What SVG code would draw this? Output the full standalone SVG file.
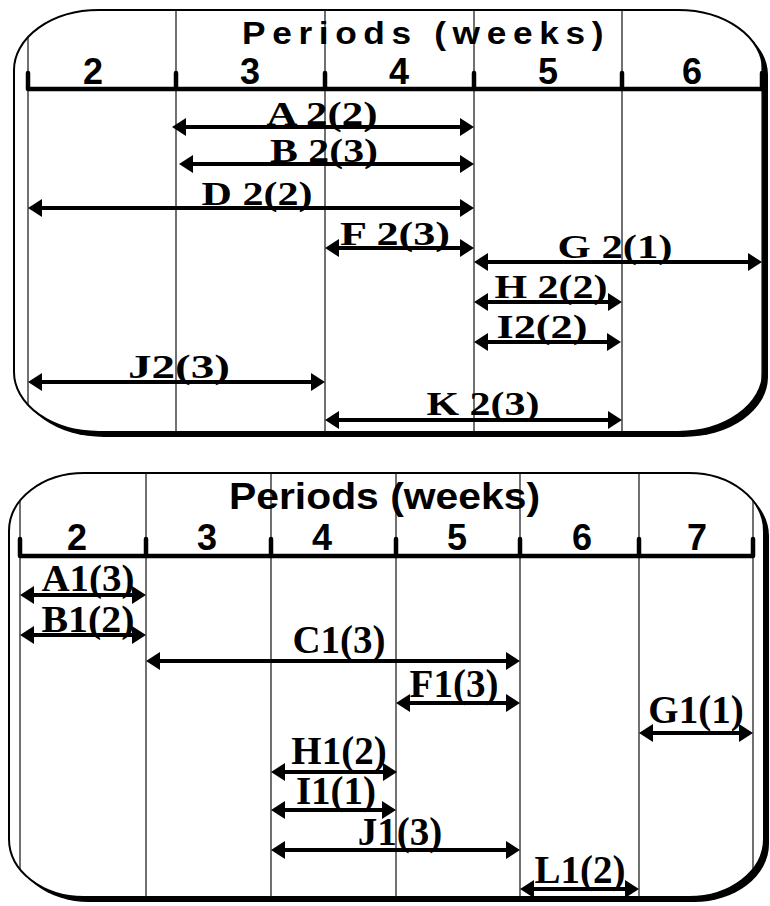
<svg xmlns="http://www.w3.org/2000/svg" width="770" height="906" viewBox="0 0 770 906">
  <style>
    .frame { fill: #fff; stroke: #000; stroke-width: 2; }
    .shadow { fill: #000; }
    .grid line { stroke: #111; stroke-width: 1.2; }
    .axis { stroke: #000; stroke-width: 4.5; fill: none; }
    .tick { stroke: #000; stroke-width: 4.5; stroke-linecap: round; }
    .title { font-family: "Liberation Sans", Arial, sans-serif; font-weight: bold; font-size: 32px; fill: #000; }
    .num { font-family: "Liberation Sans", Arial, sans-serif; font-weight: bold; font-size: 36px; fill: #000; text-anchor: middle; }
    .lbl2 { font-family: "Liberation Serif", "Times New Roman", serif; font-weight: bold; font-size: 34px; fill: #000; text-anchor: middle; }
    .lbl1 { font-family: "Liberation Serif", "Times New Roman", serif; font-weight: bold; font-size: 39px; fill: #000; text-anchor: middle; }
    .bar { stroke: #000; stroke-width: 4; fill: none; marker-start: url(#head); marker-end: url(#head); }
  </style>
  <defs>
    <marker id="head" viewBox="0 -9 14 18" markerWidth="14" markerHeight="18" refX="0" refY="0" markerUnits="userSpaceOnUse" orient="auto-start-reverse">
      <path d="M0,-9 L14,0 L0,9 Z" fill="#000"/>
    </marker>
    <clipPath id="clipTop"><rect x="14" y="10" width="749" height="422" rx="85" ry="60"/></clipPath>
    <clipPath id="clipBot"><rect x="9" y="473" width="755" height="424" rx="75" ry="58"/></clipPath>
  </defs>

  <!-- ===== Upper schedule (periods 2-6) ===== -->
  <g id="panel-upper">
    <rect class="shadow" x="19" y="15" width="749" height="422" rx="85" ry="60"/>
    <rect class="frame" x="14" y="10" width="749" height="422" rx="85" ry="60"/>
    <g class="grid" clip-path="url(#clipTop)">
      <line x1="28" y1="10" x2="28" y2="432"/>
      <line x1="176" y1="10" x2="176" y2="432"/>
      <line x1="325" y1="10" x2="325" y2="432"/>
      <line x1="474" y1="10" x2="474" y2="432"/>
      <line x1="622" y1="10" x2="622" y2="432"/>
      <line x1="762" y1="10" x2="762" y2="432"/>
    </g>
    <line class="axis" x1="28" y1="89" x2="764" y2="89"/>
    <g>
      <line class="tick" x1="28" y1="73" x2="28" y2="89"/>
      <line class="tick" x1="176" y1="73" x2="176" y2="89"/>
      <line class="tick" x1="325" y1="73" x2="325" y2="89"/>
      <line class="tick" x1="474" y1="73" x2="474" y2="89"/>
      <line class="tick" x1="622" y1="73" x2="622" y2="89"/>
      <line class="tick" x1="762" y1="73" x2="762" y2="89"/>
    </g>
    <text class="title" x="242" y="44" letter-spacing="6" textLength="368" lengthAdjust="spacingAndGlyphs">Periods (weeks)</text>
    <text class="num" x="93" y="84">2</text>
    <text class="num" x="250" y="84">3</text>
    <text class="num" x="399" y="84">4</text>
    <text class="num" x="548" y="84">5</text>
    <text class="num" x="692" y="84">6</text>
  </g>

  <g id="tasks-upper">
    <g id="A2"><line class="bar" x1="186" y1="127" x2="460" y2="127"/><text class="lbl2" x="322" y="125" textLength="111" lengthAdjust="spacingAndGlyphs">A 2(2)</text></g>
    <g id="B2"><line class="bar" x1="193" y1="164" x2="460" y2="164"/><text class="lbl2" x="324" y="162" textLength="108" lengthAdjust="spacingAndGlyphs">B 2(3)</text></g>
    <g id="D2"><line class="bar" x1="42" y1="208" x2="460" y2="208"/><text class="lbl2" x="257" y="205" textLength="111" lengthAdjust="spacingAndGlyphs">D 2(2)</text></g>
    <g id="F2"><line class="bar" x1="339" y1="248" x2="460" y2="248"/><text class="lbl2" x="395" y="245" textLength="110" lengthAdjust="spacingAndGlyphs">F 2(3)</text></g>
    <g id="G2"><line class="bar" x1="488" y1="262" x2="748" y2="262"/><text class="lbl2" x="615" y="258" textLength="115" lengthAdjust="spacingAndGlyphs">G 2(1)</text></g>
    <g id="H2"><line class="bar" x1="488" y1="302" x2="608" y2="302"/><text class="lbl2" x="551" y="298" textLength="113" lengthAdjust="spacingAndGlyphs">H 2(2)</text></g>
    <g id="I2"><line class="bar" x1="488" y1="342" x2="607" y2="342"/><text class="lbl2" x="542" y="338" textLength="91" lengthAdjust="spacingAndGlyphs">I2(2)</text></g>
    <g id="J2"><line class="bar" x1="42" y1="382" x2="311" y2="382"/><text class="lbl2" x="179" y="378" textLength="102" lengthAdjust="spacingAndGlyphs">J2(3)</text></g>
    <g id="K2"><line class="bar" x1="339" y1="420" x2="608" y2="420"/><text class="lbl2" x="483" y="415" textLength="113" lengthAdjust="spacingAndGlyphs">K 2(3)</text></g>
  </g>

  <!-- ===== Lower schedule (periods 2-7) ===== -->
  <g id="panel-lower">
    <rect class="shadow" x="14" y="478" width="755" height="424" rx="75" ry="58"/>
    <rect class="frame" x="9" y="473" width="755" height="424" rx="75" ry="58"/>
    <g class="grid" clip-path="url(#clipBot)">
      <line x1="20" y1="473" x2="20" y2="897"/>
      <line x1="146" y1="473" x2="146" y2="897"/>
      <line x1="271" y1="473" x2="271" y2="897"/>
      <line x1="396" y1="473" x2="396" y2="897"/>
      <line x1="520" y1="473" x2="520" y2="897"/>
      <line x1="639" y1="473" x2="639" y2="897"/>
      <line x1="753" y1="473" x2="753" y2="897"/>
    </g>
    <line class="axis" x1="20" y1="556" x2="753" y2="556"/>
    <g>
      <line class="tick" x1="20" y1="539" x2="20" y2="556"/>
      <line class="tick" x1="146" y1="539" x2="146" y2="556"/>
      <line class="tick" x1="271" y1="539" x2="271" y2="556"/>
      <line class="tick" x1="396" y1="539" x2="396" y2="556"/>
      <line class="tick" x1="520" y1="539" x2="520" y2="556"/>
      <line class="tick" x1="639" y1="539" x2="639" y2="556"/>
      <line class="tick" x1="753" y1="539" x2="753" y2="556"/>
    </g>
    <text class="title" style="font-size:36px" x="229" y="509" textLength="311" lengthAdjust="spacingAndGlyphs">Periods (weeks)</text>
    <text class="num" x="77" y="550">2</text>
    <text class="num" x="207" y="550">3</text>
    <text class="num" x="322" y="550">4</text>
    <text class="num" x="457" y="550">5</text>
    <text class="num" x="582" y="550">6</text>
    <text class="num" x="697" y="550">7</text>
  </g>

  <g id="tasks-lower">
    <g id="A1"><line class="bar" x1="34" y1="595" x2="132" y2="595"/><text class="lbl1" style="font-size:37px" x="88" y="591" textLength="93" lengthAdjust="spacingAndGlyphs">A1(3)</text></g>
    <g id="B1"><line class="bar" x1="34" y1="635" x2="132" y2="635"/><text class="lbl1" style="font-size:37px" x="88" y="632" textLength="93" lengthAdjust="spacingAndGlyphs">B1(2)</text></g>
    <g id="C1"><line class="bar" x1="160" y1="661" x2="506" y2="661"/><text class="lbl1" x="339" y="653">C1(3)</text></g>
    <g id="F1"><line class="bar" x1="410" y1="703" x2="506" y2="703"/><text class="lbl1" x="454" y="697">F1(3)</text></g>
    <g id="G1"><line class="bar" x1="653" y1="733" x2="739" y2="733"/><text class="lbl1" x="696" y="723">G1(1)</text></g>
    <g id="H1"><line class="bar" x1="285" y1="772" x2="383" y2="772"/><text class="lbl1" x="339" y="764">H1(2)</text></g>
    <g id="I1"><line class="bar" x1="285" y1="810" x2="382" y2="810"/><text class="lbl1" x="336" y="804">I1(1)</text></g>
    <g id="J1"><line class="bar" x1="285" y1="850" x2="506" y2="850"/><text class="lbl1" x="400" y="845">J1(3)</text></g>
    <g id="L1"><line class="bar" x1="534" y1="889" x2="625" y2="889"/><text class="lbl1" x="580" y="883">L1(2)</text></g>
  </g>
</svg>
